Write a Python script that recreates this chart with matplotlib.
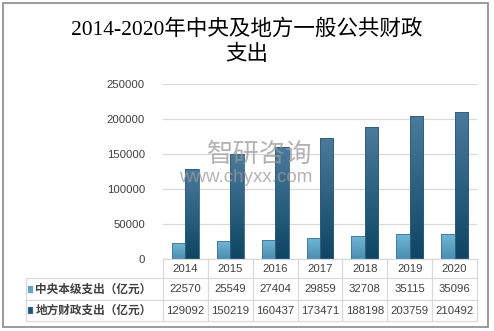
import matplotlib.pyplot as plt
import numpy as np
from matplotlib.colors import LinearSegmentedColormap
from matplotlib.patches import Rectangle

plt.rcParams['font.family'] = ['Liberation Sans', 'Noto Sans CJK SC']

years = ['2014', '2015', '2016', '2017', '2018', '2019', '2020']
central = [22570, 25549, 27404, 29859, 32708, 35115, 35096]
local = [129092, 150219, 160437, 173471, 188198, 203759, 210492]
series_names = ['中央本级支出（亿元）', '地方财政支出（亿元）']
title = '2014-2020年中央及地方一般公共财政\n支出'

W, H = 494, 331
fig = plt.figure(figsize=(W / 100, H / 100), dpi=100)

# plot area in pixel terms
x0, x1, y_top, y_bot = 163, 477, 84, 259
ax = fig.add_axes([x0 / W, 1 - y_bot / H, (x1 - x0) / W, (y_bot - y_top) / H])

light_cmap = LinearSegmentedColormap.from_list('light', ['#4a8db0', '#72b6d6'])
dark_cmap = LinearSegmentedColormap.from_list('dark', ['#0e4664', '#4b7a9c'])
grad = np.linspace(0, 1, 64).reshape(-1, 1)

x = np.arange(len(years))
bw = 0.3
bars_c = ax.bar(x - bw / 2, central, bw, color='none', edgecolor='#3f7394', linewidth=0.6, zorder=3)
bars_l = ax.bar(x + bw / 2, local, bw, color='none', edgecolor='#2f5d7b', linewidth=0.6, zorder=3)

# gradient fill clipped to each bar
for bars, cmap in [(bars_c, light_cmap), (bars_l, dark_cmap)]:
    for b in bars:
        bx, by = b.get_x(), b.get_y()
        im = ax.imshow(grad, cmap=cmap, origin='lower', aspect='auto',
                       extent=[bx, bx + b.get_width(), by, by + b.get_height()], zorder=2)
        im.set_clip_path(b)

ax.set_xlim(-0.5, len(years) - 0.5)
ax.set_ylim(0, 250000)
ax.set_yticks(np.arange(0, 250001, 50000))
ax.set_xticks([])
ax.tick_params(axis='y', length=0, pad=13, labelsize=8.2, labelcolor='#404040')
ax.yaxis.grid(True, color='#d9d9d9', linewidth=0.9, zorder=0)
ax.set_axisbelow(True)
for s in ax.spines.values():
    s.set_visible(False)

# data table under the bars (axes-fraction units vertically)
ph = y_bot - y_top
r1 = -(278 - y_bot) / ph
r2 = -(300 - y_bot) / ph
r3 = -(321 - y_bot) / ph
lab_left = (26 - x0) / (x1 - x0)
lc = '#d9d9d9'
tr = ax.get_xaxis_transform()
ta = ax.transAxes
kw = dict(color=lc, linewidth=0.9, clip_on=False)
ax.plot([0, 1], [0, 0], transform=ta, **kw)
for yy in (r1, r2, r3):
    ax.plot([lab_left, 1], [yy, yy], transform=ta, **kw)
ax.plot([lab_left, lab_left], [r1, r3], transform=ta, **kw)
for i in range(len(years) + 1):
    ax.plot([i - 0.5, i - 0.5], [0, r3], transform=tr, **kw)

txt = dict(ha='center', va='center', fontsize=8.2, color='#404040', transform=tr)
for i, yr in enumerate(years):
    ax.text(i, r1 / 2, yr, **txt)
    ax.text(i, (r1 + r2) / 2, str(central[i]), **txt)
    ax.text(i, (r2 + r3) / 2, str(local[i]), **txt)

key_colors = ['#5fa3c5', '#1f5676']
for k, (name, kc, yc) in enumerate(zip(series_names, key_colors, [(r1 + r2) / 2, (r2 + r3) / 2])):
    ax.add_patch(Rectangle((lab_left + 0.005, yc - 0.02), 0.018, 0.04, transform=ta,
                           facecolor=kc, edgecolor='#9ab', linewidth=0.3, clip_on=False))
    ax.text(lab_left + 0.03, yc, name, ha='left', va='center', fontsize=8.4, fontweight='bold',
            color='#404040', transform=ta, family=['Noto Sans CJK SC'])

fig.text(0.5, 1 - 42 / H, title, ha='center', va='center', fontsize=15.5,
         linespacing=1.32, color='black', family=['Liberation Serif', 'Noto Sans CJK SC'])

# watermark
fig.text(260 / W, 1 - 154 / H, '智研咨询', ha='center', va='center', fontsize=19,
         color='#9a9a9a', alpha=0.75, family=['Noto Sans CJK SC'])
fig.text(246 / W, 1 - 178 / H, 'www.chyxx.com', ha='center', va='center', fontsize=13.5,
         color='#9a9a9a', alpha=0.75)

# outer border
fig.add_artist(Rectangle((2.5 / W, 4 / H), 485.5 / W, 324.5 / H, transform=fig.transFigure,
                         fill=False, edgecolor='#8a8a8a', linewidth=1.2))

fig.savefig('out.png', dpi=100)
